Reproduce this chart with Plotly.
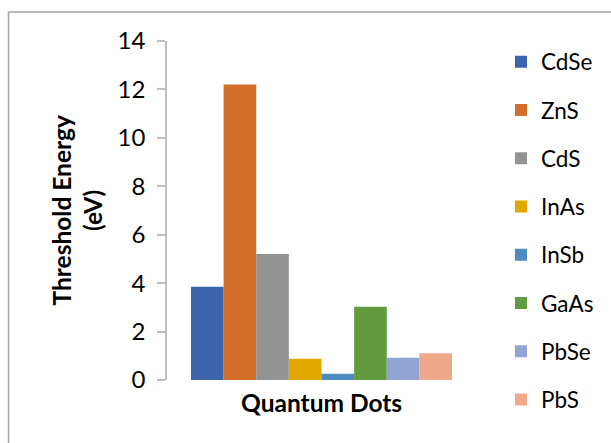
import plotly.graph_objects as go

category = ["Quantum Dots"]
materials = ["CdSe", "ZnS", "CdS", "InAs", "InSb", "GaAs", "PbSe", "PbS"]
threshold_energy = [3.85, 12.2, 5.2, 0.88, 0.26, 3.02, 0.92, 1.1]
colors = ["#3d64ac", "#d36e2b", "#939393", "#e3a800", "#4f8bc0", "#629a3f", "#91a4d3", "#f0a88b"]
y_ticks = [0, 2, 4, 6, 8, 10, 12, 14]

FONT = "Lato"
W, H = 611, 443
ML, MR, MT, MB = 167, 135, 41, 63
PW, PH = W - ML - MR, H - MT - MB

def px_x(p):
    return (p - ML) / PW

def px_y(p):
    return (H - MB - p) / PH

fig = go.Figure()
for i, (m, v, c) in enumerate(zip(materials, threshold_energy, colors)):
    fig.add_trace(go.Bar(
        x=category, y=[v], name=m, marker=dict(color=c, line=dict(width=0)),
        legendgroup=m,
    ))

fig.update_layout(
    width=W, height=H, autosize=False,
    margin=dict(l=ML, r=MR, t=MT, b=MB),
    paper_bgcolor="white", plot_bgcolor="white",
    barmode="group", bargap=0.155, bargroupgap=0,
    font=dict(family=FONT, color="#000000"),
    showlegend=True,
    legend=dict(
        x=px_x(501), y=px_y(40.5), xanchor="left", yanchor="top",
        font=dict(size=22.5, family=FONT, color="#000000"),
        tracegroupgap=16, bgcolor="rgba(0,0,0,0)", borderwidth=0,
        maxheight=440,
    ),
    xaxis=dict(
        range=[-0.5, 0.5], showticklabels=False, showline=False,
        showgrid=False, zeroline=False, ticks="",
    ),
    yaxis=dict(
        range=[0, 14], tickvals=y_ticks, showgrid=False, zeroline=False,
        showline=True, linecolor="#bfbfbf", linewidth=1.5,
        ticks="outside", ticklen=8, tickcolor="#bfbfbf", tickwidth=1.5,
        tickfont=dict(size=24, family=FONT, color="#000000"),
        ticklabelstandoff=7,
    ),
    annotations=[
        dict(text="<b>Threshold Energy</b><br><b>(eV)</b>", xref="paper", yref="paper",
             x=px_x(77), y=0.5, xanchor="center", yanchor="middle", textangle=-90,
             showarrow=False, font=dict(size=24.5, family=FONT, color="#000000")),
        dict(text="<b>Quantum Dots</b>", xref="paper", yref="paper",
             x=0.5, y=px_y(402), xanchor="center", yanchor="middle",
             showarrow=False, font=dict(size=24.5, family=FONT, color="#000000")),
    ],
    shapes=[
        dict(type="rect", xref="paper", yref="paper",
             x0=px_x(8.5), x1=px_x(W + 20), y0=px_y(12), y1=px_y(H + 20),
             line=dict(color="#a6a6a6", width=1.5), fillcolor="rgba(0,0,0,0)", layer="below"),
    ],
)

fig.write_html("out.html", config={"displayModeBar": False},
               post_script=["document.body.style.margin='0px';"])
